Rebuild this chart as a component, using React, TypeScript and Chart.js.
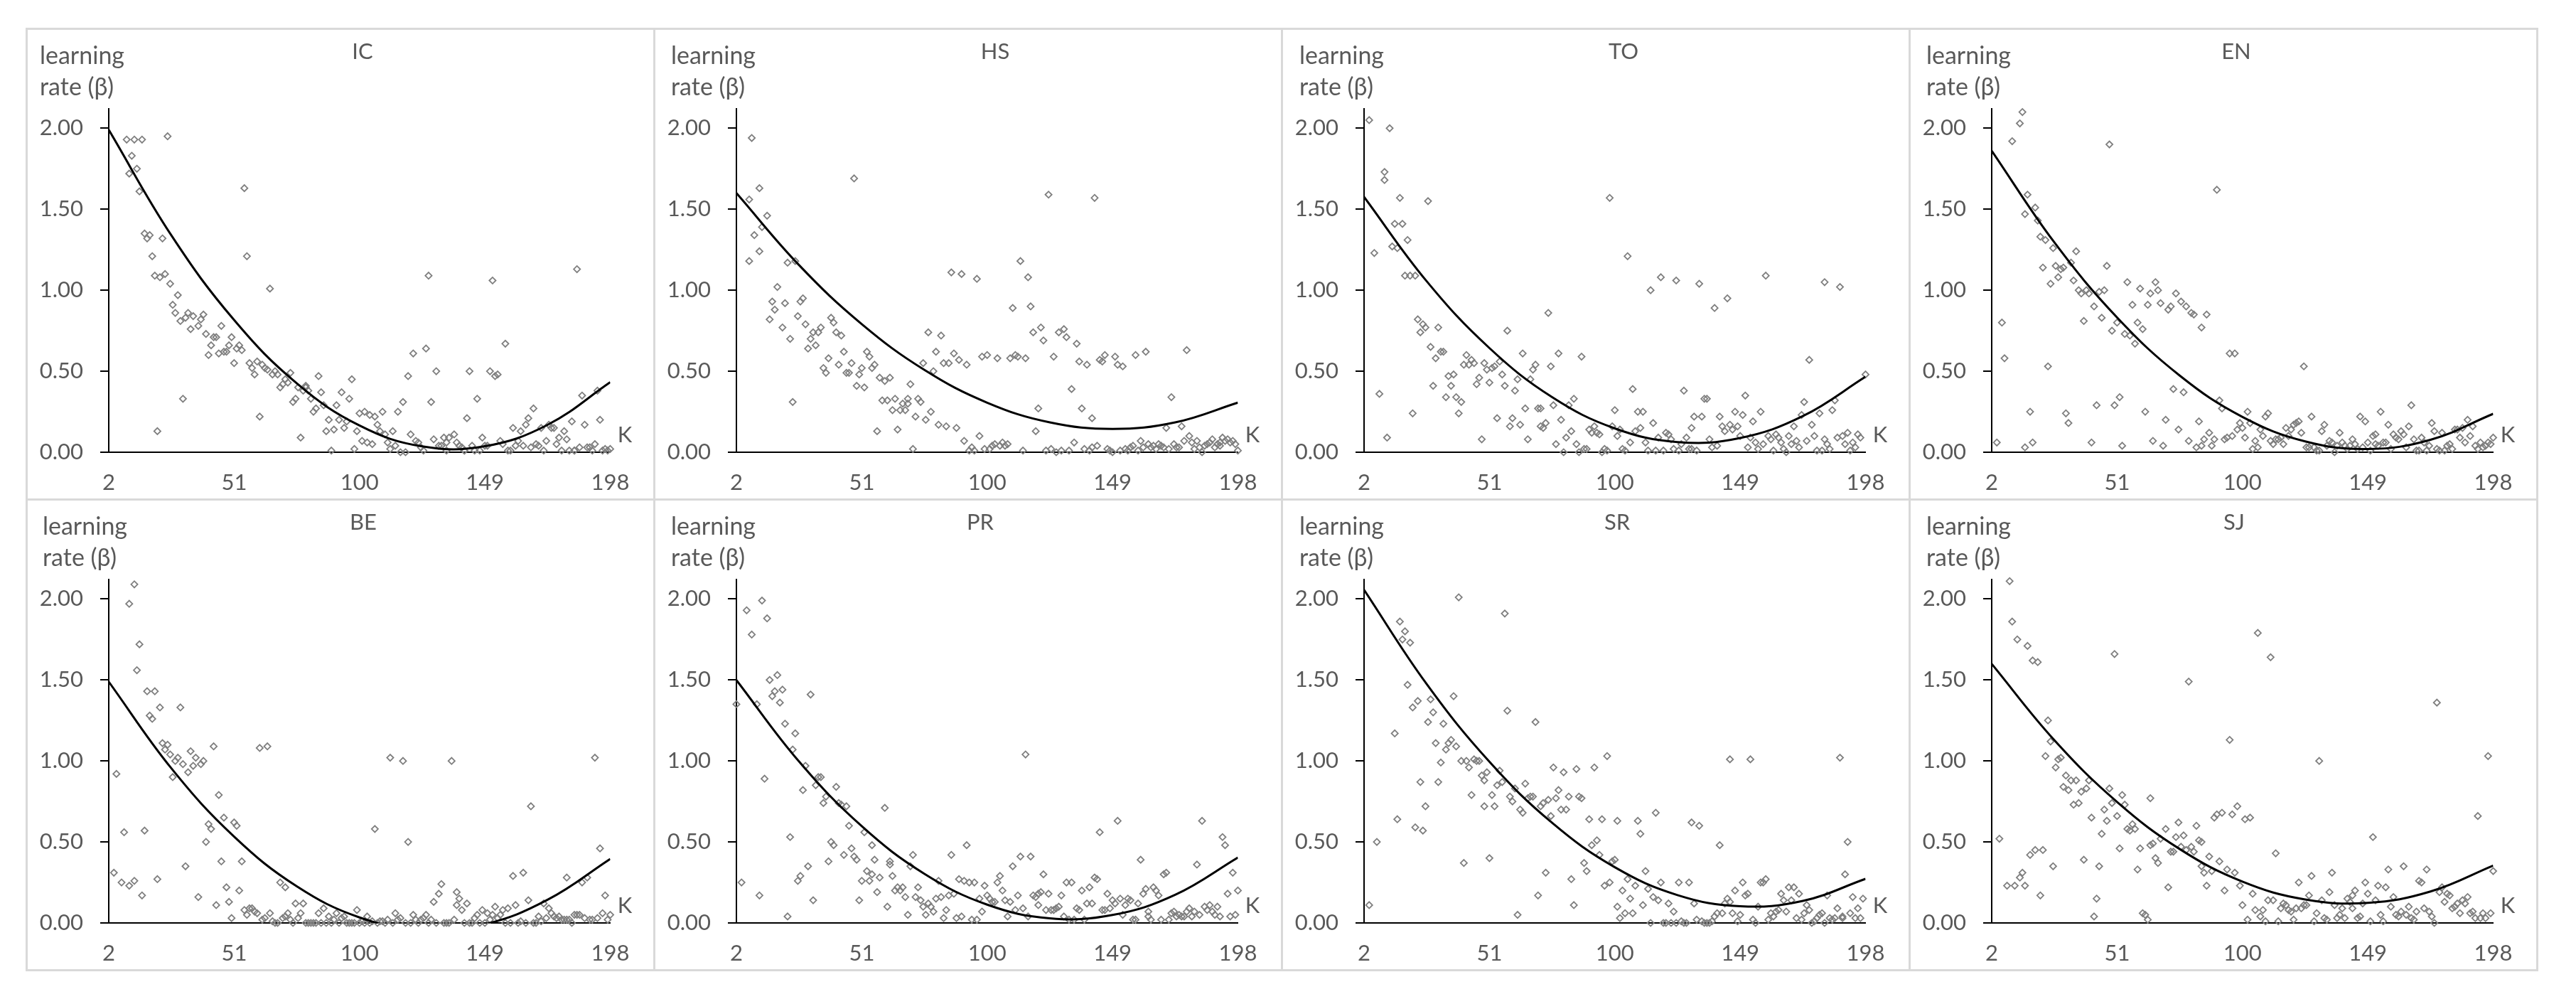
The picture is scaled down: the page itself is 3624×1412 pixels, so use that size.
import React, { useEffect, useRef } from 'react';
import { Chart, registerables } from 'chart.js';

Chart.register(...registerables);

// ---------- data ----------
const X_TICKS = [2, 51, 100, 149, 198];
const Y_TICKS = [0, 0.5, 1, 1.5, 2];
const Y_MAX = 2.12;
const TREND_K = [2, 26.5, 51, 75.5, 100, 124.5, 149, 173.5, 198];

const IC_POINTS: number[][] = [[9,1.93],[12,1.93],[15,1.93],[25,1.95],[11,1.83],[10,1.72],[13,1.75],[14,1.61],[16,1.35],[17,1.32],[18,1.34],[23,1.32],[19,1.21],[20,1.09],[22,1.08],[24,1.10],[26,1.04],[21,0.13],[29,0.97],[27,0.91],[28,0.86],[30,0.81],[31,0.33],[32,0.83],[33,0.86],[35,0.84],[34,0.76],[37,0.78],[38,0.82],[39,0.85],[40,0.73],[41,0.60],[42,0.66],[43,0.71],[44,0.71],[45,0.61],[46,0.78],[47,0.62],[48,0.62],[49,0.66],[50,0.71],[51,0.55],[52,0.64],[53,0.66],[54,0.63],[55,1.63],[56,1.21],[57,0.55],[58,0.52],[59,0.48],[60,0.56],[61,0.22],[62,0.54],[63,0.52],[64,0.51],[65,1.01],[66,0.48],[67,0.50],[68,0.48],[69,0.40],[70,0.42],[71,0.45],[72,0.43],[73,0.49],[74,0.31],[75,0.33],[76,0.40],[77,0.09],[78,0.38],[79,0.40],[79,0.41],[80,0.38],[81,0.33],[82,0.25],[83,0.27],[84,0.47],[85,0.37],[86,0.29],[87,0.13],[88,0.20],[89,0.01],[90,0.14],[91,0.29],[92,0.20],[93,0.37],[94,0.15],[95,0.19],[96,0.33],[97,0.45],[98,0.02],[99,0.13],[100,0.24],[101,0.07],[102,0.25],[103,0.06],[104,0.23],[105,0.05],[106,0.22],[107,0.17],[108,0.13],[109,0.25],[110,0.11],[111,0.06],[112,0.02],[113,0.13],[114,0.04],[115,0.25],[116,0.00],[117,0.31],[118,0.00],[119,0.47],[120,0.11],[121,0.61],[122,0.07],[123,0.06],[124,0.03],[125,0.01],[126,0.64],[127,1.09],[128,0.31],[129,0.08],[130,0.50],[131,0.04],[132,0.04],[133,0.09],[134,0.06],[134,0.01],[135,0.09],[137,0.11],[138,0.06],[139,0.04],[140,0.03],[141,0.01],[141,0.01],[142,0.21],[143,0.50],[144,0.04],[145,0.01],[146,0.33],[147,0.01],[148,0.09],[149,0.04],[150,0.04],[151,0.50],[152,1.06],[153,0.47],[154,0.48],[155,0.07],[156,0.05],[157,0.67],[158,0.01],[159,0.01],[160,0.15],[161,0.04],[162,0.07],[163,0.13],[164,0.04],[165,0.17],[166,0.21],[167,0.03],[168,0.27],[169,0.05],[170,0.04],[171,0.15],[172,0.01],[173,0.07],[174,0.17],[175,0.15],[176,0.15],[177,0.05],[178,0.09],[179,0.01],[180,0.13],[181,0.08],[182,0.01],[183,0.19],[184,0.01],[184,0.01],[185,1.13],[186,0.03],[187,0.35],[188,0.17],[189,0.03],[190,0.03],[191,0.01],[192,0.05],[193,0.38],[194,0.20],[195,0.01],[196,0.02],[197,0.01],[198,0.02]];
const IC_TREND = [1.99, 1.338, 0.816, 0.425, 0.165, 0.036, 0.037, 0.169, 0.432];

const HS_POINTS: number[][] = [[7,1.56],[7,1.18],[8,1.94],[9,1.34],[11,1.63],[11,1.24],[12,1.39],[14,1.46],[15,0.82],[16,0.93],[17,0.88],[18,1.02],[19,2.33],[20,0.77],[21,0.92],[22,1.17],[23,0.70],[24,0.31],[25,1.18],[26,0.84],[27,0.93],[28,0.95],[29,0.79],[30,0.64],[31,0.70],[32,0.74],[33,0.66],[34,0.74],[35,0.77],[36,0.52],[37,0.49],[38,0.58],[39,0.83],[40,0.80],[41,0.74],[42,0.54],[43,0.72],[44,0.62],[45,0.49],[46,0.49],[47,0.55],[48,1.69],[49,0.41],[50,0.48],[51,0.52],[52,0.40],[53,0.62],[54,0.59],[55,0.52],[56,0.54],[57,0.13],[58,0.46],[59,0.32],[60,0.44],[61,0.32],[62,0.46],[63,0.26],[64,0.33],[65,0.14],[66,0.26],[67,0.30],[68,0.26],[69,0.33],[69,0.30],[70,0.42],[71,0.02],[72,0.22],[73,0.33],[74,0.31],[75,0.55],[76,0.20],[77,0.74],[78,0.25],[79,0.50],[80,0.62],[81,0.17],[82,0.72],[83,0.55],[84,0.16],[85,0.55],[86,1.11],[87,0.61],[88,0.15],[89,0.57],[90,1.10],[91,0.07],[92,0.54],[93,0.01],[94,0.03],[95,0.01],[96,1.07],[97,0.10],[98,0.59],[99,0.02],[100,0.60],[101,0.02],[102,0.04],[103,0.05],[104,0.58],[105,0.04],[106,0.06],[107,0.04],[108,0.05],[109,0.58],[110,0.89],[111,0.60],[112,0.59],[113,1.18],[114,0.01],[115,0.58],[116,1.08],[117,0.90],[118,0.74],[119,0.13],[120,0.27],[121,0.77],[122,0.69],[123,0.01],[124,1.59],[125,0.02],[126,0.59],[127,0.00],[128,0.74],[129,0.01],[130,0.76],[131,0.71],[132,0.01],[133,0.39],[134,0.06],[135,0.67],[136,0.56],[137,0.27],[138,0.02],[139,0.54],[140,0.01],[141,0.21],[141,0.03],[142,1.57],[143,0.04],[144,0.57],[145,0.56],[146,0.60],[147,0.02],[148,0.01],[149,0.00],[150,0.59],[151,0.54],[152,0.01],[153,0.53],[154,0.02],[155,0.01],[156,0.03],[157,0.04],[158,0.60],[159,0.01],[160,0.07],[161,0.03],[162,0.62],[163,0.05],[164,0.03],[165,0.04],[166,0.02],[167,0.05],[168,0.04],[169,0.03],[170,0.15],[171,0.02],[172,0.34],[173,0.05],[174,0.03],[175,0.03],[176,0.16],[177,0.07],[178,0.63],[179,0.10],[180,0.06],[181,0.02],[182,0.07],[183,0.03],[184,0.00],[185,0.04],[186,0.05],[187,0.06],[188,0.08],[189,0.03],[190,0.05],[191,0.06],[191,0.04],[192,0.09],[193,0.07],[194,0.08],[195,0.06],[196,0.07],[197,0.05],[198,0.01]];
const HS_TREND = [1.600, 1.155, 0.791, 0.508, 0.306, 0.184, 0.144, 0.184, 0.306];

const TO_POINTS: number[][] = [[4,2.05],[6,1.23],[8,0.36],[10,1.68],[10,1.73],[11,0.09],[12,2.00],[13,1.27],[14,1.41],[15,1.26],[16,1.57],[17,1.41],[18,1.09],[19,1.31],[20,1.09],[21,0.24],[22,1.09],[23,0.82],[24,0.74],[25,0.79],[26,0.77],[27,1.55],[28,0.65],[29,0.41],[30,0.58],[31,0.77],[32,0.62],[33,0.62],[34,0.34],[35,0.47],[36,0.41],[37,0.48],[38,0.34],[39,0.24],[40,0.31],[41,0.54],[42,0.60],[43,0.54],[44,0.57],[45,0.55],[46,0.42],[47,0.46],[48,0.08],[49,0.55],[50,0.51],[51,0.43],[52,0.52],[53,0.53],[54,0.21],[55,0.56],[56,0.48],[57,0.41],[58,0.75],[59,0.16],[60,0.21],[61,0.38],[62,0.45],[63,0.17],[64,0.61],[65,0.27],[66,0.08],[67,0.45],[68,0.51],[69,0.54],[70,0.27],[71,0.16],[71,0.27],[72,0.15],[73,0.18],[74,0.86],[75,0.53],[76,0.29],[77,0.05],[78,0.61],[79,0.20],[80,0.00],[81,0.09],[82,0.29],[83,0.13],[84,0.33],[85,0.05],[86,0.00],[87,0.59],[88,0.02],[89,0.02],[90,0.14],[91,0.12],[92,0.16],[93,0.12],[94,0.11],[95,0.00],[96,0.02],[97,0.01],[98,1.57],[99,0.16],[100,0.26],[101,0.10],[102,0.14],[103,0.02],[104,0.01],[105,1.21],[106,0.06],[107,0.39],[108,0.13],[109,0.25],[110,0.15],[111,0.25],[112,0.06],[113,0.01],[114,1.00],[115,0.18],[116,0.01],[117,0.09],[118,1.08],[119,0.01],[120,0.12],[121,0.11],[122,0.08],[123,0.02],[124,1.06],[125,0.01],[126,0.05],[127,0.38],[128,0.09],[129,0.02],[130,0.02],[130,0.15],[131,0.22],[132,0.01],[133,1.04],[134,0.22],[135,0.33],[136,0.33],[137,0.08],[138,0.03],[139,0.89],[140,0.04],[141,0.22],[142,0.16],[143,0.13],[144,0.95],[145,0.17],[146,0.14],[147,0.25],[148,0.16],[149,0.10],[150,0.23],[151,0.35],[152,0.03],[153,0.09],[154,0.19],[155,0.06],[156,0.02],[157,0.25],[158,0.05],[159,1.09],[160,0.10],[161,0.08],[162,0.01],[163,0.11],[164,0.09],[165,0.06],[166,0.02],[167,0.00],[168,0.10],[169,0.05],[170,0.16],[171,0.07],[172,0.03],[173,0.23],[174,0.31],[175,0.07],[176,0.57],[177,0.17],[178,0.10],[179,0.01],[180,0.24],[181,0.01],[182,1.05],[182,0.08],[183,0.05],[184,0.02],[185,0.26],[186,0.32],[187,0.09],[188,1.02],[189,0.10],[190,0.05],[191,0.12],[192,0.01],[193,0.06],[194,0.03],[195,0.11],[196,0.09],[198,0.48]];
const TO_TREND = [1.576, 1.055, 0.643, 0.340, 0.147, 0.063, 0.088, 0.223, 0.466];

const EN_POINTS: number[][] = [[4,0.06],[6,0.80],[7,0.58],[10,1.92],[13,2.03],[14,2.10],[15,1.47],[15,0.03],[16,1.59],[17,0.25],[18,0.06],[19,1.51],[20,1.43],[21,1.33],[22,1.14],[23,1.31],[24,0.53],[25,1.04],[26,1.26],[27,1.15],[28,1.08],[29,1.13],[30,1.14],[31,0.24],[32,0.18],[33,1.17],[34,1.06],[35,1.24],[36,1.00],[37,0.98],[38,0.81],[39,1.00],[40,0.98],[41,0.06],[42,0.90],[43,0.29],[44,0.99],[45,0.83],[46,1.00],[47,1.15],[48,1.90],[49,0.75],[50,0.29],[51,0.80],[52,0.34],[53,0.04],[54,0.73],[55,1.05],[56,0.72],[57,0.91],[58,0.67],[59,0.80],[60,1.01],[61,0.76],[62,0.25],[63,0.91],[64,0.98],[65,0.07],[66,1.05],[67,1.00],[68,0.92],[69,0.04],[70,0.20],[71,0.88],[72,0.90],[73,0.39],[74,0.98],[75,0.14],[76,0.93],[77,0.37],[78,0.90],[79,0.07],[80,0.86],[81,0.85],[82,0.03],[83,0.19],[84,0.77],[84,0.04],[85,0.08],[86,0.85],[87,0.12],[88,0.04],[89,0.08],[90,1.62],[91,0.32],[92,0.27],[93,0.08],[94,0.09],[95,0.61],[96,0.10],[97,0.61],[98,0.14],[99,0.18],[100,0.15],[101,0.09],[102,0.25],[103,0.18],[104,0.02],[105,0.07],[106,0.03],[107,0.14],[108,0.10],[109,0.22],[110,0.24],[111,0.07],[112,0.05],[113,0.08],[114,0.08],[115,0.09],[116,0.05],[117,0.15],[118,0.10],[119,0.14],[120,0.17],[121,0.18],[122,0.19],[123,0.12],[124,0.53],[125,0.03],[126,0.03],[127,0.22],[128,0.03],[129,0.01],[130,0.01],[131,0.13],[132,0.17],[133,0.04],[134,0.07],[135,0.06],[136,0.00],[137,0.04],[138,0.12],[139,0.06],[140,0.04],[141,0.02],[142,0.04],[143,0.08],[144,0.05],[145,0.02],[146,0.22],[147,0.03],[148,0.19],[149,0.06],[150,0.01],[151,0.10],[152,0.11],[152,0.05],[153,0.04],[154,0.25],[155,0.06],[156,0.06],[157,0.17],[158,0.02],[159,0.11],[160,0.09],[161,0.08],[162,0.13],[163,0.11],[164,0.03],[165,0.16],[166,0.29],[167,0.08],[168,0.01],[169,0.01],[170,0.09],[171,0.06],[172,0.01],[173,0.04],[174,0.18],[175,0.13],[176,0.02],[177,0.01],[178,0.12],[179,0.01],[180,0.04],[181,0.05],[182,0.02],[183,0.14],[184,0.14],[185,0.09],[186,0.15],[187,0.06],[188,0.20],[189,0.10],[190,0.16],[191,0.04],[192,0.02],[193,0.06],[194,0.03],[195,0.04],[196,0.06],[197,0.05],[198,0.09]];
const EN_TREND = [1.861, 1.295, 0.832, 0.473, 0.218, 0.067, 0.020, 0.077, 0.237];

const BE_POINTS: number[][] = [[4,0.31],[5,0.92],[7,0.25],[8,0.56],[10,0.23],[10,1.97],[12,0.26],[12,2.09],[13,1.56],[14,1.72],[15,0.17],[16,0.57],[17,1.43],[18,1.28],[19,1.26],[20,1.43],[21,0.27],[22,1.33],[23,1.11],[24,1.07],[25,1.10],[26,1.04],[27,0.90],[28,1.00],[29,1.02],[30,1.33],[31,0.98],[32,0.35],[33,0.93],[34,1.06],[35,0.97],[36,1.02],[37,0.16],[38,0.98],[39,1.00],[40,0.50],[41,0.61],[42,0.58],[43,1.09],[44,0.11],[45,0.79],[46,0.38],[47,0.65],[48,0.22],[49,0.13],[50,0.03],[51,0.62],[52,0.60],[53,0.20],[54,0.38],[55,0.08],[56,0.05],[57,0.09],[58,0.09],[59,0.07],[60,0.06],[61,1.08],[62,0.02],[63,0.03],[64,1.09],[65,0.06],[66,0.01],[67,0.00],[68,0.00],[69,0.25],[70,0.03],[71,0.04],[71,0.22],[72,0.06],[73,0.02],[74,0.00],[75,0.12],[76,0.03],[77,0.06],[78,0.12],[79,0.00],[80,0.00],[81,0.00],[82,0.00],[83,0.00],[84,0.06],[85,0.00],[86,0.09],[87,0.00],[88,0.04],[89,0.00],[90,0.02],[91,0.06],[92,0.00],[93,0.03],[94,0.04],[95,0.00],[96,0.00],[97,0.00],[98,0.00],[99,0.08],[100,0.00],[101,0.01],[102,0.00],[103,0.04],[104,0.00],[105,0.01],[106,0.58],[107,0.00],[108,0.01],[109,0.01],[110,0.00],[111,0.02],[112,1.02],[113,0.00],[114,0.06],[115,0.02],[116,0.03],[117,1.00],[118,0.00],[119,0.50],[120,0.00],[121,0.05],[122,0.02],[123,0.00],[124,0.02],[125,0.03],[126,0.05],[127,0.00],[128,0.02],[129,0.13],[130,0.00],[131,0.18],[132,0.24],[133,0.00],[134,0.00],[135,0.00],[136,1.00],[137,0.02],[138,0.19],[138,0.11],[139,0.15],[140,0.08],[141,0.00],[142,0.12],[143,0.00],[144,0.00],[145,0.03],[146,0.05],[147,0.00],[148,0.08],[149,0.00],[150,0.06],[151,0.02],[152,0.05],[153,0.10],[154,0.03],[155,0.05],[156,0.08],[157,0.00],[158,0.09],[159,0.00],[160,0.29],[161,0.11],[162,0.00],[163,0.01],[164,0.31],[165,0.00],[166,0.14],[167,0.72],[168,0.00],[169,0.00],[170,0.04],[171,0.01],[172,0.12],[173,0.03],[174,0.09],[175,0.06],[176,0.04],[177,0.03],[178,0.04],[179,0.02],[180,0.02],[181,0.02],[181,0.28],[182,0.02],[183,0.00],[184,0.05],[185,0.05],[186,0.05],[187,0.25],[188,0.03],[189,0.28],[190,0.02],[191,0.02],[192,1.02],[193,0.03],[194,0.46],[195,0.06],[196,0.17],[197,0.02],[198,0.05]];
const BE_TREND = [1.489, 0.954, 0.533, 0.226, 0.034, -0.044, -0.008, 0.143, 0.395];

const PR_POINTS: number[][] = [[2,1.35],[4,0.25],[6,1.93],[8,1.78],[10,1.35],[11,0.17],[12,1.99],[13,0.89],[14,1.88],[15,1.50],[16,1.40],[17,1.43],[18,1.53],[19,1.36],[20,1.44],[21,1.23],[22,0.04],[23,0.53],[24,1.07],[25,1.17],[26,0.26],[27,0.29],[28,0.82],[29,0.97],[30,0.35],[31,1.41],[32,0.14],[33,0.85],[34,0.90],[35,0.90],[36,0.74],[37,0.78],[38,0.38],[39,0.50],[40,0.48],[41,0.84],[42,0.74],[43,0.73],[44,0.42],[45,0.72],[46,0.60],[47,0.46],[48,0.41],[49,0.39],[50,0.14],[51,0.26],[52,0.56],[53,0.32],[54,0.26],[55,0.30],[55,0.48],[56,0.39],[57,0.19],[58,0.28],[60,0.71],[61,0.10],[62,0.36],[62,0.38],[63,0.29],[64,0.20],[65,0.22],[66,0.20],[67,0.22],[68,0.16],[69,0.05],[70,0.35],[71,0.42],[72,0.16],[73,0.22],[74,0.14],[75,0.10],[76,0.05],[77,0.12],[78,0.10],[79,0.07],[80,0.15],[81,0.26],[82,0.16],[83,0.03],[84,0.08],[85,0.17],[86,0.42],[87,0.18],[88,0.03],[89,0.27],[90,0.04],[91,0.26],[92,0.48],[93,0.25],[94,0.02],[95,0.25],[96,0.02],[97,0.15],[98,0.07],[99,0.23],[100,0.17],[101,0.15],[102,0.13],[103,0.13],[104,0.25],[105,0.29],[106,0.20],[107,0.14],[108,0.04],[109,0.13],[110,0.35],[111,0.08],[112,0.17],[113,0.41],[114,0.09],[115,1.04],[116,0.04],[117,0.41],[118,0.17],[119,0.16],[120,0.18],[120,0.11],[121,0.19],[122,0.30],[123,0.08],[124,0.18],[125,0.08],[126,0.08],[127,0.09],[128,0.10],[129,0.17],[130,0.04],[131,0.25],[132,0.02],[133,0.25],[134,0.02],[135,0.09],[136,0.08],[137,0.20],[138,0.02],[139,0.12],[140,0.22],[141,0.12],[142,0.28],[143,0.27],[144,0.56],[145,0.08],[146,0.08],[147,0.18],[148,0.09],[149,0.14],[150,0.12],[151,0.63],[152,0.15],[153,0.05],[154,0.11],[155,0.15],[156,0.14],[157,0.02],[158,0.02],[159,0.12],[160,0.39],[161,0.18],[162,0.21],[163,0.07],[163,0.04],[164,0.02],[165,0.22],[166,0.20],[167,0.17],[168,0.02],[169,0.30],[170,0.31],[171,0.02],[172,0.06],[173,0.07],[174,0.04],[175,0.05],[176,0.04],[177,0.04],[178,0.07],[179,0.09],[180,0.04],[181,0.07],[182,0.36],[183,0.05],[184,0.63],[185,0.10],[186,0.08],[187,0.11],[188,0.07],[189,0.05],[190,0.10],[191,0.04],[192,0.53],[193,0.48],[194,0.18],[195,0.04],[196,0.31],[197,0.05],[198,0.20]];
const PR_TREND = [1.499, 0.996, 0.597, 0.303, 0.113, 0.029, 0.049, 0.174, 0.404];

const SR_POINTS: number[][] = [[4,0.11],[7,0.50],[14,1.17],[15,0.64],[16,1.86],[17,1.75],[18,1.80],[19,1.47],[20,1.73],[21,1.33],[22,0.59],[23,1.37],[24,0.87],[25,0.57],[26,0.72],[27,1.24],[28,1.38],[29,1.30],[30,1.11],[31,0.87],[32,0.99],[33,1.23],[34,1.07],[35,1.11],[36,1.13],[37,1.40],[38,1.09],[39,2.01],[40,1.00],[41,0.37],[42,1.00],[43,0.96],[44,0.79],[45,1.01],[46,1.00],[47,1.00],[48,0.91],[49,0.88],[49,0.72],[50,0.93],[51,0.40],[52,0.79],[53,0.72],[54,0.85],[55,0.94],[56,0.87],[57,1.91],[58,1.31],[59,0.78],[60,0.75],[61,0.83],[62,0.05],[63,0.70],[64,0.68],[65,0.86],[66,0.77],[67,0.78],[68,0.78],[69,1.24],[70,0.17],[71,0.72],[72,0.74],[73,0.31],[74,0.76],[75,0.66],[76,0.96],[77,0.77],[78,0.82],[79,0.70],[80,0.93],[81,0.70],[82,0.78],[83,0.27],[84,0.11],[85,0.95],[86,0.78],[87,0.77],[88,0.37],[89,0.32],[90,0.64],[91,0.48],[92,0.96],[93,0.51],[94,0.42],[95,0.64],[96,0.23],[97,1.03],[98,0.25],[99,0.38],[100,0.39],[101,0.63],[101,0.10],[102,0.03],[103,0.20],[104,0.06],[105,0.27],[106,0.15],[107,0.06],[108,0.23],[109,0.63],[110,0.55],[111,0.11],[112,0.32],[113,0.21],[114,0.00],[115,0.16],[116,0.68],[117,0.14],[118,0.25],[119,0.00],[120,0.00],[121,0.12],[122,0.00],[123,0.07],[124,0.00],[125,0.25],[126,0.01],[127,0.00],[128,0.00],[129,0.25],[130,0.62],[131,0.12],[132,0.02],[133,0.60],[134,0.01],[135,0.00],[136,0.00],[137,0.00],[138,0.01],[139,0.04],[140,0.06],[141,0.48],[142,0.06],[143,0.12],[144,0.15],[145,1.01],[145,0.13],[146,0.06],[147,0.20],[148,0.01],[149,0.05],[150,0.25],[151,0.17],[152,0.18],[153,1.01],[154,0.02],[155,0.00],[156,0.10],[157,0.25],[158,0.25],[159,0.27],[160,0.02],[161,0.06],[162,0.04],[163,0.07],[164,0.08],[165,0.18],[166,0.14],[167,0.07],[168,0.22],[169,0.14],[170,0.22],[171,0.03],[172,0.18],[173,0.02],[174,0.06],[175,0.11],[176,0.08],[177,0.00],[178,0.01],[179,0.03],[180,0.05],[181,0.06],[182,0.00],[183,0.17],[184,0.03],[185,0.02],[186,0.03],[187,0.09],[188,1.02],[189,0.03],[189,0.04],[190,0.30],[191,0.50],[192,0.06],[193,0.16],[194,0.03],[195,0.09],[196,0.03],[197,0.15]];
const SR_TREND = [2.056, 1.474, 0.995, 0.618, 0.344, 0.172, 0.103, 0.136, 0.272];

const SJ_POINTS: number[][] = [[5,0.52],[8,0.23],[9,2.11],[10,1.86],[11,0.23],[12,1.75],[13,0.28],[14,0.31],[15,0.23],[16,1.71],[17,0.42],[18,1.62],[19,0.45],[20,1.61],[21,0.17],[22,0.45],[23,1.03],[24,1.25],[25,1.12],[26,0.35],[27,0.96],[28,1.01],[29,1.02],[30,0.84],[31,0.91],[32,0.82],[33,0.88],[34,0.73],[35,0.88],[36,0.74],[37,0.81],[38,0.39],[39,0.83],[40,0.88],[41,0.65],[42,0.04],[43,0.15],[44,0.35],[45,0.55],[46,0.70],[47,0.63],[48,0.83],[49,0.74],[50,1.66],[51,0.66],[52,0.46],[53,0.79],[54,0.73],[55,0.58],[56,0.57],[57,0.61],[58,0.58],[59,0.33],[60,0.46],[61,0.06],[62,0.05],[63,0.02],[64,0.77],[64,0.48],[65,0.49],[66,0.40],[67,0.37],[68,0.52],[70,0.58],[71,0.22],[72,0.44],[73,0.44],[74,0.53],[75,0.62],[76,0.47],[77,0.54],[78,0.45],[79,1.49],[80,0.47],[81,0.44],[82,0.60],[83,0.51],[84,0.35],[84,0.50],[85,0.31],[86,0.23],[87,0.41],[88,0.32],[89,0.65],[90,0.67],[91,0.38],[92,0.68],[93,0.20],[94,0.33],[95,1.13],[96,0.67],[97,0.31],[98,0.72],[99,0.23],[100,0.11],[101,0.64],[102,0.02],[103,0.65],[104,0.18],[105,0.08],[106,1.79],[107,0.04],[108,0.08],[109,0.01],[110,0.14],[111,1.64],[112,0.14],[113,0.43],[114,0.01],[115,0.09],[116,0.12],[117,0.11],[118,0.08],[119,0.07],[120,0.02],[121,0.09],[122,0.25],[123,0.09],[124,0.11],[125,0.11],[126,0.17],[127,0.29],[128,0.01],[129,0.06],[130,1.00],[131,0.14],[132,0.03],[133,0.02],[134,0.19],[135,0.31],[136,0.11],[137,0.03],[138,0.05],[139,0.09],[140,0.03],[141,0.15],[142,0.13],[143,0.09],[143,0.17],[144,0.20],[145,0.03],[146,0.04],[147,0.12],[148,0.25],[149,0.18],[150,0.01],[151,0.53],[152,0.14],[153,0.23],[154,0.05],[155,0.01],[156,0.22],[157,0.33],[158,0.10],[159,0.16],[160,0.05],[161,0.04],[162,0.07],[163,0.35],[164,0.05],[165,0.10],[166,0.03],[167,0.02],[168,0.07],[169,0.26],[170,0.25],[171,0.09],[172,0.33],[173,0.07],[174,0.04],[175,0.00],[176,1.36],[177,0.19],[178,0.22],[179,0.13],[180,0.18],[181,0.17],[182,0.09],[183,0.10],[184,0.12],[185,0.06],[186,0.14],[187,0.12],[188,0.16],[189,0.06],[190,0.07],[191,0.03],[192,0.66],[193,0.03],[194,0.06],[195,0.03],[196,1.03],[197,0.06],[198,0.32]];
const SJ_TREND = [1.599, 1.128, 0.747, 0.456, 0.255, 0.145, 0.124, 0.194, 0.354];

// ---------- layout / style ----------
const FONT = 'Lato, "Open Sans", "DejaVu Sans", sans-serif';
const TEXT = '#595959';
const PANEL_W = 884;
const PANEL_H = 662;
const ORIGIN_X = [36, 919, 1802, 2685];
const ORIGIN_Y = [40, 702];
const V_LINES = [37, 920, 1803, 2686, 3569];
const H_LINES = [40, 702, 1364];

type PanelCfg = { title: string; points: number[][]; trend: number[]; col: number; row: number; titleX: number; yTitleX: number };

const PANELS: PanelCfg[] = [
  { title: 'IC', points: IC_POINTS, trend: IC_TREND, col: 0, row: 0, titleX: 474, yTitleX: 20 },
  { title: 'HS', points: HS_POINTS, trend: HS_TREND, col: 1, row: 0, titleX: 481, yTitleX: 25 },
  { title: 'TO', points: TO_POINTS, trend: TO_TREND, col: 2, row: 0, titleX: 482, yTitleX: 26 },
  { title: 'EN', points: EN_POINTS, trend: EN_TREND, col: 3, row: 0, titleX: 461, yTitleX: 25 },
  { title: 'BE', points: BE_POINTS, trend: BE_TREND, col: 0, row: 1, titleX: 475, yTitleX: 24 },
  { title: 'PR', points: PR_POINTS, trend: PR_TREND, col: 1, row: 1, titleX: 460, yTitleX: 25 },
  { title: 'SR', points: SR_POINTS, trend: SR_TREND, col: 2, row: 1, titleX: 473, yTitleX: 26 },
  { title: 'SJ', points: SJ_POINTS, trend: SJ_TREND, col: 3, row: 1, titleX: 458, yTitleX: 25 },
];

function Panel({ cfg }: { cfg: PanelCfg }) {
  const ref = useRef<HTMLCanvasElement>(null);
  useEffect(() => {
    const textPlugin = {
      id: 'panelText',
      afterDraw(chart: any) {
        const ctx = chart.ctx as CanvasRenderingContext2D;
        ctx.save();
        ctx.fillStyle = TEXT;
        ctx.textBaseline = 'alphabetic';
        ctx.textAlign = 'center';
        ctx.font = `31px ${FONT}`;
        ctx.fillText(cfg.title, cfg.titleX, 43);
        ctx.fillText('K', 843, 582);
        ctx.textAlign = 'left';
        ctx.font = `34px ${FONT}`;
        ctx.fillText('learning', cfg.yTitleX, 50);
        ctx.fillText('rate (β)', cfg.yTitleX, 94);
        ctx.restore();
      },
    };
    const chart = new Chart(ref.current as HTMLCanvasElement, {
      type: 'scatter',
      data: {
        datasets: [
          {
            data: TREND_K.map((k, i) => ({ x: k, y: cfg.trend[i] })),
            showLine: true,
            borderColor: '#000000',
            borderWidth: 3,
            pointRadius: 0,
            tension: 0.4,
            fill: false,
            order: 0,
          } as any,
          {
            data: cfg.points.map(([k, b]) => ({ x: k, y: b })),
            pointStyle: 'rectRot',
            pointRadius: 4.6,
            borderColor: '#7f7f7f',
            backgroundColor: 'rgba(255,255,255,0)',
            borderWidth: 1.8,
            clip: false,
            order: 1,
          } as any,
        ],
      },
      options: {
        animation: false,
        responsive: false,
        devicePixelRatio: 1,
        events: [],
        layout: { padding: { top: 113, right: 61.5, left: 0, bottom: 0 } },
        plugins: { legend: { display: false }, tooltip: { enabled: false }, title: { display: false } },
        scales: {
          x: {
            type: 'linear',
            min: 2,
            max: 198,
            afterBuildTicks: (s: any) => { s.ticks = X_TICKS.map((v) => ({ value: v })); },
            afterFit: (s: any) => { s.height = 66; },
            grid: { display: true, drawOnChartArea: false, drawTicks: false },
            border: { display: true, color: '#000000', width: 2 },
            ticks: { font: { family: FONT, size: 31 }, color: TEXT, padding: 24, maxRotation: 0, autoSkip: false },
          },
          y: {
            type: 'linear',
            min: 0,
            max: Y_MAX,
            afterBuildTicks: (s: any) => { s.ticks = Y_TICKS.map((v) => ({ value: v })); },
            afterFit: (s: any) => { s.width = 117; },
            grid: { display: true, drawOnChartArea: false, drawTicks: true, tickLength: 12, color: '#000000', lineWidth: 2 },
            border: { display: true, color: '#000000', width: 2 },
            ticks: { font: { family: FONT, size: 31 }, color: TEXT, padding: 24, callback: (v: any) => Number(v).toFixed(2) },
          },
        },
      } as any,
      plugins: [textPlugin],
    });
    return () => chart.destroy();
  }, [cfg]);
  return (
    <canvas
      ref={ref}
      width={PANEL_W}
      height={PANEL_H}
      style={{ position: 'absolute', left: ORIGIN_X[cfg.col], top: ORIGIN_Y[cfg.row], width: PANEL_W, height: PANEL_H }}
    />
  );
}

export default function App() {
  return (
    <div style={{ position: 'absolute', left: 0, top: 0, width: 3624, height: 1412, background: '#ffffff', overflow: 'hidden' }}>
      {V_LINES.map((x) => (
        <div key={'v' + x} style={{ position: 'absolute', left: x - 1.5, top: 38.5, width: 3, height: 1327, background: '#d9d9d9' }} />
      ))}
      {H_LINES.map((y) => (
        <div key={'h' + y} style={{ position: 'absolute', left: 35.5, top: y - 1.5, width: 3535, height: 3, background: '#d9d9d9' }} />
      ))}
      {PANELS.map((p) => (
        <Panel key={p.title} cfg={p} />
      ))}
    </div>
  );
}
